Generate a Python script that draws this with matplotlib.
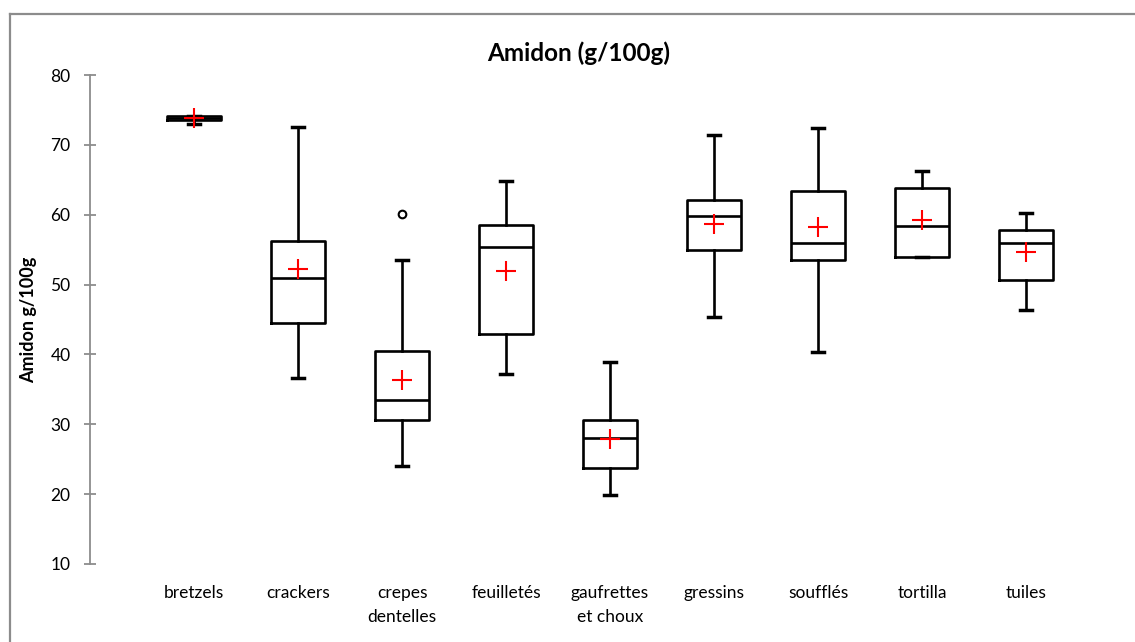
import matplotlib
matplotlib.use("Agg")
import matplotlib.pyplot as plt
from matplotlib.lines import Line2D

plt.rcParams['font.family'] = ['Lato', 'DejaVu Sans']

categories = ["bretzels", "crackers", "crepes\ndentelles", "feuilletés", "gaufrettes\net choux",
              "gressins", "soufflés", "tortilla", "tuiles"]
whis_low = [73.0, 36.6, 24.0, 37.2, 19.9, 45.4, 40.3, 53.9, 46.3]
q1 = [73.5, 44.5, 30.6, 42.9, 23.7, 55.0, 53.5, 54.0, 50.7]
median = [73.8, 51.0, 33.5, 55.4, 28.0, 59.8, 55.9, 58.4, 55.9]
q3 = [74.1, 56.2, 40.5, 58.5, 30.6, 62.1, 63.4, 63.8, 57.8]
whis_high = [74.2, 72.5, 53.5, 64.8, 38.9, 71.4, 72.4, 66.2, 60.2]
means = [73.9, 52.3, 36.3, 52.0, 27.9, 58.7, 58.2, 59.2, 54.7]
outliers = [[], [], [60.1], [], [], [], [], [], []]
yticks = [10, 20, 30, 40, 50, 60, 70, 80]

fig = plt.figure(figsize=(11.35, 6.42), dpi=100)
ax = fig.add_axes([90/1135, 1-564/642, (1130-90)/1135, (564-75)/642])

stats = []
for i in range(len(categories)):
    stats.append(dict(med=median[i], q1=q1[i], q3=q3[i], whislo=whis_low[i],
                      whishi=whis_high[i], mean=means[i], fliers=outliers[i]))

positions = list(range(1, len(categories) + 1))
lw = 1.9
ax.bxp(stats, positions=positions, widths=0.51, capwidths=0.12, showmeans=True,
       boxprops=dict(color='black', linewidth=lw),
       whiskerprops=dict(color='black', linewidth=lw),
       capprops=dict(color='black', linewidth=lw + 0.6),
       medianprops=dict(color='black', linewidth=lw),
       meanprops=dict(marker='+', markeredgecolor='red', markersize=14, markeredgewidth=1.5),
       flierprops=dict(marker='o', markerfacecolor='white', markeredgecolor='black',
                       markersize=5.5, markeredgewidth=1.5))

ax.set_xlim(0, 10)
ax.set_ylim(10, 80)
ax.set_yticks(yticks)
ax.set_xticks(positions)
ax.set_xticklabels(categories, fontsize=12.5, linespacing=1.6, va='top')
for s in ['top', 'right', 'bottom']:
    ax.spines[s].set_visible(False)
ax.spines['left'].set_color('#8c8c8c')
ax.spines['left'].set_linewidth(1.3)
ax.tick_params(axis='y', direction='inout', length=8, width=1.3, color='#8c8c8c',
               labelsize=12.5, pad=10)
ax.tick_params(axis='x', length=0, pad=15)

fig.text(29/1135, 1-320/642, "Amidon g/100g", fontsize=13, fontweight='bold',
         rotation=90, ha='center', va='center')
fig.text(579/1135, 1-53/642, "Amidon (g/100g)", fontsize=17.5, fontweight='bold',
         ha='center', va='center')

# outer frame
fig.add_artist(Line2D([10/1135, 1.0], [1-14/642, 1-14/642], color='#8c8c8c', linewidth=1.6,
                      transform=fig.transFigure))
fig.add_artist(Line2D([10/1135, 10/1135], [0.0, 1-14/642], color='#8c8c8c', linewidth=1.6,
                      transform=fig.transFigure))

fig.savefig("out.png", dpi=100)
